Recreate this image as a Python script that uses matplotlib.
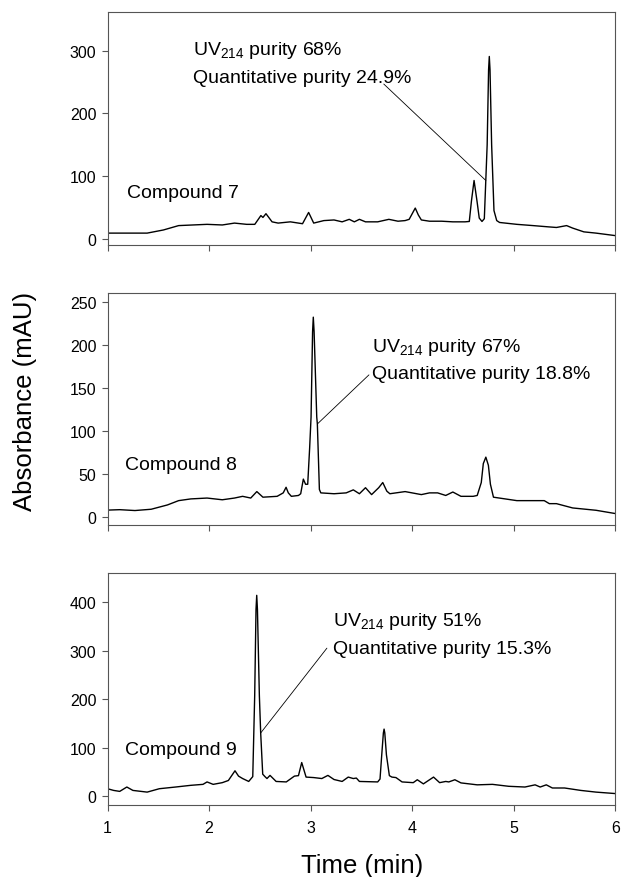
import matplotlib
matplotlib.use("Agg")
import matplotlib.pyplot as plt

plt.rcParams['font.family'] = ['Liberation Sans', 'DejaVu Sans']
plt.rcParams['mathtext.fontset'] = 'custom'
plt.rcParams['mathtext.rm'] = 'Liberation Sans'
plt.rcParams['mathtext.it'] = 'Liberation Sans:italic'

# ---------------- data ----------------
x_ticks = [1, 2, 3, 4, 5, 6]

# Compound 7 trace
c7_time = [1.00, 1.39, 1.55, 1.70, 1.98, 2.13, 2.25, 2.37, 2.45, 2.51, 2.53, 2.56, 2.62,
           2.68, 2.80, 2.92, 2.98, 3.03, 3.13, 3.23, 3.31, 3.38, 3.43, 3.48, 3.54, 3.66,
           3.77, 3.86, 3.93, 3.97, 4.00, 4.03, 4.06, 4.09, 4.17, 4.29, 4.40, 4.52, 4.562,
           4.583, 4.609, 4.638, 4.66, 4.687, 4.71, 4.738, 4.752, 4.759, 4.766, 4.782, 4.805,
           4.832, 4.86, 5.03, 5.19, 5.34, 5.42, 5.52, 5.58, 5.69, 5.81, 6.00]
c7_abs = [9, 9, 14, 21, 23, 22, 25, 23, 23, 37, 34, 40, 27,
          25, 27, 24, 42, 25, 29, 30, 27, 31, 27, 31, 27, 27,
          31, 28, 29, 31, 40, 49, 38, 30, 28, 28, 27, 27, 27.6,
          60, 93, 60, 33, 27.6, 32, 150, 270, 291, 270, 150, 45,
          29, 26, 23, 21, 19, 18, 21, 17, 11, 9, 5]

# Compound 8 trace
c8_time = [1.00, 1.12, 1.27, 1.43, 1.59, 1.70, 1.82, 1.98, 2.13, 2.25, 2.33, 2.41, 2.47,
           2.53, 2.67, 2.73, 2.758, 2.78, 2.81, 2.88, 2.902, 2.928, 2.95, 2.971, 2.99, 3.004,
           3.019, 3.026, 3.034, 3.06, 3.066, 3.086, 3.10, 3.23, 3.35, 3.42, 3.48, 3.54,
           3.60, 3.67, 3.71, 3.75, 3.78, 3.93, 4.09, 4.17, 4.25, 4.33, 4.40, 4.48, 4.60,
           4.64, 4.68, 4.70, 4.725, 4.75, 4.77, 4.80, 5.03, 5.30, 5.35, 5.42, 5.58, 5.81,
           6.00]
c8_abs = [8, 8.5, 7.5, 9, 14, 19, 21, 22, 20, 22, 24, 22, 29.5,
          23, 24, 28, 34.5, 28, 24, 25, 27, 44, 38, 38, 80, 116,
          215, 232, 215, 116, 108, 32, 28, 27, 28, 31.5, 27, 34,
          26, 34, 40, 30, 27, 29.5, 26, 28, 28, 25, 29, 24, 24,
          25, 40, 62, 69.5, 60, 38, 23, 19, 19, 15.5, 15.5, 10.5, 7.8,
          4]

# Compound 9 trace
c9_time = [1.00, 1.06, 1.12, 1.19, 1.25, 1.39, 1.51, 1.67, 1.82, 1.94, 1.98, 2.04, 2.13,
           2.19, 2.255, 2.29, 2.33, 2.39, 2.43, 2.449, 2.462, 2.469, 2.476, 2.495, 2.508,
           2.528, 2.55, 2.57, 2.60, 2.66, 2.76, 2.84, 2.88, 2.912, 2.955, 3.03, 3.11, 3.17,
           3.23, 3.31, 3.37, 3.42, 3.45, 3.48, 3.66, 3.683, 3.70, 3.716, 3.723, 3.730,
           3.746, 3.775, 3.80, 3.84, 3.90, 4.01, 4.05, 4.11, 4.21, 4.27, 4.33, 4.36, 4.42,
           4.48, 4.64, 4.79, 4.95, 5.11, 5.21, 5.26, 5.32, 5.38, 5.50, 5.66, 5.81, 6.00]
c9_abs = [15, 11.5, 9.5, 18.5, 11.5, 8, 15, 18.5, 22, 24, 29, 24, 27.5,
          32, 52, 41, 36, 30, 40, 207, 385, 414, 385, 207, 130,
          45, 40, 36, 42.5, 30, 29, 41, 42, 69, 39, 38, 36, 42.5,
          34, 30, 39, 36, 37, 30, 29, 35, 85, 130, 138, 130,
          85, 42, 39, 38, 29, 27.5, 33.5, 25, 39, 27.5, 30, 29, 33.5,
          27, 23, 24, 20, 18.5, 23, 18.5, 23, 16.5, 16.5, 11.5, 8, 5]

compounds = ["Compound 7", "Compound 8", "Compound 9"]
uv_purity = ["68%", "67%", "51%"]
quant_purity = ["24.9%", "18.8%", "15.3%"]
y_ticks = [[0, 100, 200, 300], [0, 50, 100, 150, 200, 250], [0, 100, 200, 300, 400]]
y_limits = [(-10, 362), (-9.3, 260), (-18.6, 460)]

# ---------------- figure ----------------
fig = plt.figure(figsize=(6.23, 8.78), dpi=100)
left, width = 0.1726, 0.8151
boxes = [(0.7198, 0.2654), (0.4009, 0.2642), (0.0820, 0.2642)]
axes = [fig.add_axes([left, b, width, h]) for b, h in boxes]

traces = [(c7_time, c7_abs), (c8_time, c8_abs), (c9_time, c9_abs)]
text_pos = [
    dict(tx=1.84, y1=295, y2=251, cx=1.196, cy=66, line=((3.72, 247), (4.725, 93))),
    dict(tx=3.60, y1=193, y2=161, cx=1.176, cy=56, line=((3.574, 165), (3.066, 108))),
    dict(tx=3.22, y1=353, y2=296, cx=1.17, cy=86, line=((3.16, 305), (2.508, 130))),
]

frame_col = '#555555'
for i, ax in enumerate(axes):
    t, a = traces[i]
    ax.plot(t, a, color='black', lw=1.0, solid_joinstyle='round')
    ax.set_xlim(1, 6)
    ax.set_ylim(*y_limits[i])
    ax.set_xticks(x_ticks)
    ax.set_yticks(y_ticks[i])
    for s in ax.spines.values():
        s.set_color(frame_col)
        s.set_linewidth(0.8)
    ax.tick_params(direction='out', length=4, width=0.8, color=frame_col,
                   labelsize=11.5, pad=4)
    if i < 2:
        ax.tick_params(labelbottom=False)
    else:
        ax.tick_params(axis='x', pad=7)
    p = text_pos[i]
    ax.text(p['tx'], p['y1'], r'UV$_{\mathrm{214}}$ purity ' + uv_purity[i],
            fontsize=14, va='baseline', ha='left')
    ax.text(p['tx'], p['y2'], 'Quantitative purity ' + quant_purity[i],
            fontsize=14, va='baseline', ha='left')
    ax.text(p['cx'], p['cy'], compounds[i], fontsize=14, va='baseline', ha='left')
    (x0, y0), (x1, y1) = p['line']
    ax.annotate('', xy=(x1, y1), xytext=(x0, y0),
                arrowprops=dict(arrowstyle='-', color='black', lw=0.6,
                                shrinkA=0, shrinkB=0))

fig.text(25 / 623, 1 - 401 / 878, 'Absorbance (mAU)', rotation=90,
         ha='center', va='center', fontsize=18.5)
fig.text(362 / 623, 1 - 866 / 878, 'Time (min)', ha='center', va='center', fontsize=18.5)

fig.savefig('out.png', dpi=100)
